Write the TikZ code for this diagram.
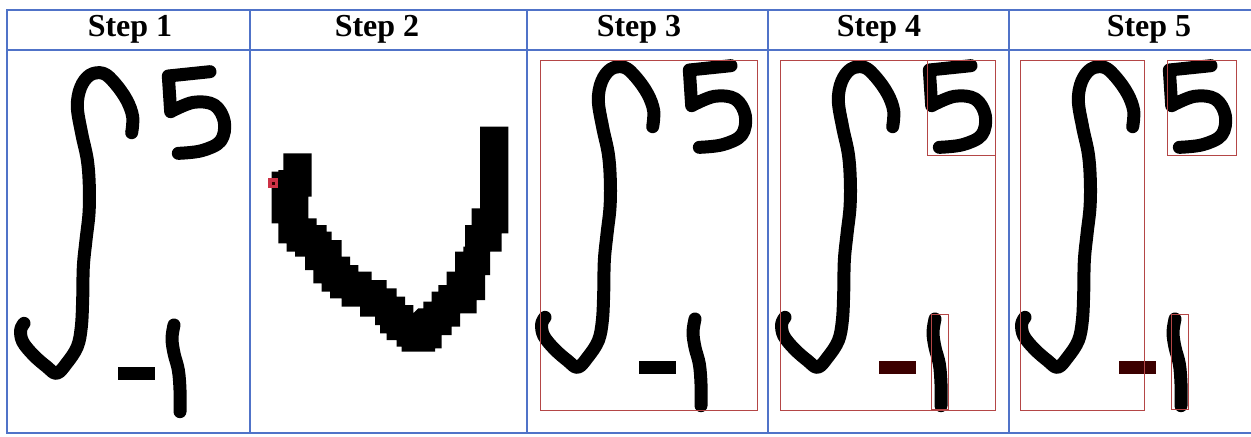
\documentclass[tikz,border=0pt]{standalone}
\usepackage{fontspec}
\setmainfont{Liberation Serif}
\definecolor{gridblue}{RGB}{80,115,200}
\definecolor{boxred}{RGB}{180,70,70}
\definecolor{maroon}{RGB}{60,0,0}
\definecolor{markred}{RGB}{205,50,70}
\tikzset{
  ink/.style={line width=6.5pt, line join=round, line cap=round, black},
  gridline/.style={draw=gridblue, line width=1pt},
  segbox/.style={draw=boxred, line width=0.5pt},
  header/.style={anchor=base, font=\bfseries\fontsize{16pt}{18pt}\selectfont, inner sep=0pt},
}
\newcommand{\drawglyph}[3]{%
  \begin{scope}[shift={(#1,#2)}]
  \begin{scope}[scale=1/3]
    \draw[ink] plot[smooth, tension=0.6] coordinates {(395,398) (398,350) (380,300) (345,250) (310,220) (270,225) (242,262) (232,320) (245,400) (262,480) (268,560) (267,640) (258,720) (250,800) (248,900) (244,980) (232,1040) (200,1090) (170,1120) (140,1100) (100,1065) (68,1025) (62,990) (72,970)};
    \draw[ink] (630,215) -- (505,228) -- (512,335)
       plot[smooth, tension=0.6] coordinates {(512,335) (580,307) (643,315) (673,365) (662,423) (605,452) (535,460)};
    \draw[ink, line cap=butt, #3] (355,1120) -- (465,1120);
    \draw[ink] plot[smooth, tension=0.6] coordinates {(522,975) (516,1015) (522,1060) (535,1110) (540,1170) (540,1235)};
  \end{scope}
  \end{scope}}
\begin{document}
\begin{tikzpicture}[x=0.5pt, y=-0.5pt]
\useasboundingbox (0,0) rectangle (1251,436);
\fill[white] (0,0) rectangle (1251,436);
% grid
\coordinate (tl) at (7,10);
\coordinate (tr) at (1251,10);
\coordinate (hl) at (7,50);
\coordinate (hr) at (1251,50);
\coordinate (bl) at (7,433);
\coordinate (br) at (1251,433);
\draw[gridline] (tr) -- (tl) -- (bl) -- (br);
\draw[gridline] (hl) -- (hr);
\foreach \xx/\nm in {250/a,527/b,768/c,1009/d}{
  \coordinate (top\nm) at (\xx,10);
  \coordinate (bot\nm) at (\xx,433);
  \draw[gridline] (top\nm) -- (bot\nm);
}
% headers
\node[header] (h1) at (130,36) {Step 1};
\node[header] (h2) at (377,36) {Step 2};
\node[header] (h3) at (639,36) {Step 3};
\node[header] (h4) at (879,36) {Step 4};
\node[header] (h5) at (1149,36) {Step 5};
% step 1
\drawglyph{0}{0}{black}
% step 2
\begin{scope}[shift={(250,0)}, scale=1/3]
\fill[black] (100,460) -- (185,460) -- (185,590) -- (175,590) -- (175,655) -- (200,655) -- (200,675) -- (230,675) -- (230,695) -- (245,695) -- (245,720) -- (275,720) -- (275,770) -- (300,770) -- (300,795) -- (325,795) -- (325,815) -- (365,815) -- (365,840) -- (410,840) -- (410,865) -- (440,865) -- (440,890) -- (465,890) -- (465,915) -- (490,915) -- (490,940) -- (505,925) -- (520,925) -- (520,905) -- (545,905) -- (545,875) -- (565,875) -- (565,855) -- (590,855) -- (590,815) -- (615,815) -- (615,755) -- (640,755) -- (640,740) -- (645,740) -- (645,675) -- (665,675) -- (665,625) -- (690,625) -- (690,380) -- (775,380) -- (775,700) -- (755,700) -- (755,755) -- (720,755) -- (720,825) -- (705,825) -- (705,900) -- (680,900) -- (680,940) -- (630,940) -- (630,980) -- (605,980) -- (605,1005) -- (575,1005) -- (575,1045) -- (555,1045) -- (555,1055) -- (455,1055) -- (455,1040) -- (440,1040) -- (440,1020) -- (410,1020) -- (410,1000) -- (390,1000) -- (390,975) -- (375,975) -- (375,950) -- (330,950) -- (330,920) -- (275,920) -- (275,895) -- (240,895) -- (240,875) -- (215,875) -- (215,850) -- (190,850) -- (190,810) -- (165,810) -- (165,770) -- (135,770) -- (135,755) -- (110,755) -- (110,730) -- (85,730) -- (85,670) -- (65,670) -- (65,515) -- (85,515) -- (85,510) -- (100,510) -- cycle;
\fill[markred] (55,535) rectangle (85,565);
\fill[black!80!red] (65,545) rectangle (75,555);
\end{scope}
% step 3
\drawglyph{521}{-6}{black}
\draw[segbox] (540,60) rectangle (757,410);
% step 4
\drawglyph{761}{-6}{maroon}
\draw[segbox] (780,60) rectangle (995,410);
\draw[segbox] (927,60) rectangle (995,155);
\draw[segbox] (931,314) rectangle (948,409);
% step 5
\drawglyph{1001}{-6}{maroon}
\draw[segbox] (1020,60) rectangle (1144,410);
\draw[segbox] (1167,60) rectangle (1236,155);
\draw[segbox] (1171,314) rectangle (1188,409);
\end{tikzpicture}
\end{document}
